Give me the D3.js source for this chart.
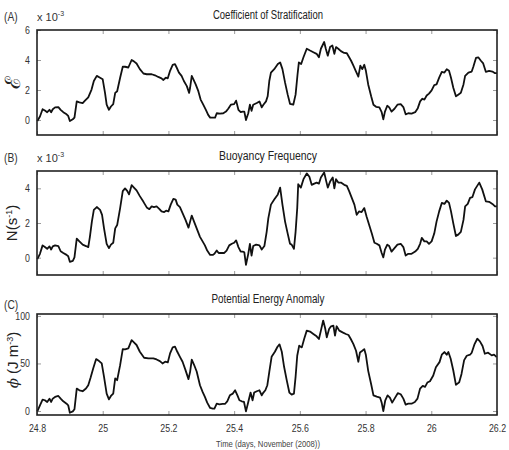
<!DOCTYPE html>
<html>
<head>
<meta charset="utf-8">
<script src="https://cdn.jsdelivr.net/npm/d3@7"></script>
<style>
  body { margin: 0; background: #fff; }
  svg { font-family: "Liberation Sans", Arial, sans-serif; }
</style>
</head>
<body>
<svg width="509" height="450"></svg>
<script>
// time axis (days, November 2008)
const xTicks = [24.8, 25, 25.2, 25.4, 25.6, 25.8, 26, 26.2];

// (A) coefficient of stratification, x 10^-3
const daysA = [24.801,24.809,24.817,24.824,24.831,24.838,24.843,24.848,24.855,24.865,24.872,24.880,24.890,24.895,24.900,24.909,24.914,24.921,24.929,24.939,24.946,24.956,24.966,24.973,24.982,24.992,25.000,25.007,25.012,25.019,25.025,25.032,25.038,25.044,25.053,25.061,25.068,25.078,25.088,25.095,25.103,25.113,25.124,25.134,25.149,25.159,25.169,25.179,25.184,25.192,25.198,25.205,25.213,25.220,25.225,25.232,25.240,25.247,25.256,25.263,25.266,25.271,25.276,25.283,25.291,25.298,25.306,25.314,25.321,25.327,25.335,25.342,25.347,25.357,25.367,25.375,25.382,25.390,25.400,25.406,25.413,25.420,25.426,25.431,25.436,25.443,25.448,25.453,25.458,25.469,25.477,25.484,25.489,25.497,25.502,25.507,25.512,25.522,25.533,25.540,25.547,25.555,25.563,25.570,25.580,25.587,25.593,25.597,25.604,25.611,25.621,25.631,25.641,25.651,25.658,25.664,25.674,25.679,25.685,25.692,25.699,25.705,25.710,25.717,25.725,25.735,25.743,25.750,25.756,25.763,25.770,25.778,25.784,25.790,25.796,25.801,25.808,25.817,25.824,25.832,25.842,25.849,25.854,25.859,25.866,25.872,25.879,25.888,25.897,25.907,25.915,25.922,25.930,25.940,25.951,25.959,25.966,25.973,25.979,25.986,25.993,26.001,26.009,26.016,26.024,26.032,26.040,26.047,26.054,26.060,26.067,26.075,26.082,26.090,26.098,26.103,26.113,26.123,26.128,26.136,26.143,26.151,26.158,26.166,26.176,26.186,26.194,26.200];
const epsA = [-0.07,0.23,0.72,0.63,0.52,0.68,0.52,0.72,0.84,0.86,0.68,0.52,0.38,0.27,-0.07,0.05,0.16,1.24,1.18,1.13,1.29,1.51,2.03,2.60,2.94,2.82,2.71,1.81,1.02,0.68,0.90,1.06,1.81,1.92,2.82,3.55,3.55,3.50,4.00,3.91,3.77,3.39,3.10,3.05,3.05,2.98,2.87,2.78,2.67,2.82,2.78,3.28,3.68,3.73,3.50,3.16,2.94,2.60,2.26,1.81,2.15,2.94,2.71,2.37,1.92,1.36,1.02,0.68,0.34,0.16,0.16,0.16,0.45,0.43,0.45,0.56,0.75,1.02,1.06,1.29,0.68,0.52,0.56,0.56,0.00,0.45,1.02,0.61,1.02,1.13,1.24,0.84,1.02,1.24,1.58,2.60,3.16,3.39,3.73,3.84,3.39,2.49,1.69,1.08,1.02,1.69,3.05,3.84,3.73,4.18,4.75,4.63,4.52,4.41,4.18,4.75,5.20,4.75,4.29,4.86,4.97,4.41,4.86,4.75,4.59,4.47,4.45,4.18,3.95,3.62,3.28,2.89,3.62,3.39,3.68,3.28,2.37,1.58,1.02,0.88,0.84,0.52,0.05,0.56,0.95,0.84,0.56,0.75,1.02,1.06,0.86,0.38,0.45,0.43,0.52,0.79,1.24,1.42,1.36,1.63,1.76,1.97,2.33,2.37,2.82,3.21,3.16,3.39,3.28,2.82,2.15,1.58,1.69,1.81,2.37,2.94,3.16,3.23,3.55,4.14,4.18,3.95,3.77,3.21,3.28,3.23,3.12,3.12];

// (B) buoyancy frequency, x 10^-3 s^-1
const daysB = [24.801,24.809,24.817,24.824,24.831,24.838,24.843,24.848,24.855,24.865,24.872,24.880,24.890,24.895,24.900,24.909,24.914,24.921,24.929,24.939,24.949,24.956,24.961,24.967,24.973,24.982,24.992,24.998,25.004,25.012,25.019,25.025,25.032,25.038,25.044,25.053,25.061,25.068,25.075,25.080,25.088,25.095,25.103,25.113,25.124,25.134,25.142,25.149,25.156,25.164,25.172,25.179,25.187,25.193,25.200,25.207,25.215,25.222,25.227,25.235,25.243,25.252,25.261,25.266,25.271,25.278,25.286,25.296,25.304,25.311,25.318,25.327,25.335,25.340,25.347,25.353,25.362,25.370,25.377,25.385,25.393,25.400,25.406,25.413,25.420,25.426,25.431,25.436,25.443,25.448,25.453,25.458,25.467,25.477,25.484,25.492,25.499,25.504,25.512,25.522,25.533,25.540,25.547,25.555,25.563,25.570,25.575,25.582,25.587,25.592,25.595,25.603,25.611,25.621,25.629,25.636,25.644,25.651,25.658,25.664,25.674,25.680,25.685,25.692,25.700,25.705,25.710,25.717,25.725,25.735,25.743,25.750,25.758,25.766,25.773,25.780,25.788,25.796,25.803,25.811,25.819,25.827,25.834,25.842,25.849,25.854,25.859,25.866,25.872,25.879,25.888,25.897,25.907,25.915,25.922,25.930,25.940,25.951,25.959,25.966,25.971,25.979,25.986,25.993,26.001,26.009,26.016,26.024,26.032,26.040,26.047,26.054,26.060,26.067,26.075,26.082,26.090,26.098,26.103,26.111,26.118,26.125,26.133,26.146,26.155,26.166,26.176,26.186,26.194,26.200];
const nB = [-0.08,0.22,0.71,0.61,0.51,0.65,0.47,0.65,0.71,0.67,0.37,0.27,0.16,0.08,-0.24,-0.18,0.02,1.10,0.94,0.75,0.67,0.61,1.20,2.08,2.76,2.92,2.76,2.47,1.69,0.80,0.55,0.75,0.86,1.69,1.88,2.86,3.84,4.00,3.84,3.65,4.18,4.04,3.88,3.55,3.22,2.90,2.80,2.96,2.92,2.96,2.82,2.67,2.63,2.71,2.67,3.06,3.39,3.35,3.06,2.92,2.57,2.18,1.73,2.08,2.43,2.08,1.69,1.20,0.94,0.71,0.41,0.16,0.16,0.22,0.41,0.27,0.27,0.27,0.41,0.71,0.80,0.86,1.00,0.61,0.35,0.35,0.31,-0.41,0.22,0.80,0.12,0.67,0.75,0.71,0.47,0.67,1.49,2.27,3.06,3.35,3.65,4.04,3.06,2.08,1.39,0.80,0.75,0.51,1.49,2.86,4.24,4.04,4.53,4.86,4.67,4.20,4.27,4.33,4.27,4.63,4.92,4.43,4.04,4.39,4.63,4.00,4.53,4.33,4.33,4.20,4.14,3.84,3.45,3.06,2.47,2.67,2.63,2.86,2.37,1.88,1.39,0.86,0.80,0.71,0.27,0.02,0.47,0.75,0.67,0.35,0.55,0.75,0.80,0.61,0.12,0.22,0.22,0.35,0.51,0.80,1.14,0.94,0.94,0.80,0.94,1.39,2.08,2.67,3.16,3.10,3.29,3.16,2.67,1.98,1.25,1.33,1.49,2.18,2.96,3.10,3.45,3.49,3.94,4.33,3.94,3.25,3.22,3.10,2.96,2.96];

// (C) potential energy anomaly, J m^-3
const daysC = [24.801,24.809,24.817,24.824,24.831,24.838,24.843,24.848,24.855,24.865,24.872,24.880,24.890,24.895,24.900,24.909,24.914,24.921,24.929,24.939,24.949,24.956,24.963,24.971,24.980,24.989,24.997,25.004,25.012,25.019,25.025,25.032,25.038,25.044,25.053,25.061,25.068,25.078,25.088,25.095,25.103,25.113,25.126,25.139,25.154,25.164,25.174,25.182,25.190,25.198,25.205,25.213,25.220,25.227,25.235,25.243,25.252,25.261,25.266,25.271,25.278,25.286,25.296,25.304,25.311,25.318,25.327,25.335,25.340,25.347,25.355,25.365,25.372,25.379,25.387,25.396,25.403,25.410,25.416,25.423,25.430,25.436,25.443,25.450,25.456,25.461,25.469,25.477,25.484,25.489,25.495,25.501,25.507,25.514,25.524,25.532,25.538,25.545,25.552,25.560,25.568,25.575,25.582,25.587,25.592,25.598,25.606,25.613,25.621,25.631,25.641,25.651,25.658,25.664,25.671,25.677,25.682,25.689,25.695,25.702,25.707,25.712,25.720,25.730,25.740,25.748,25.755,25.763,25.771,25.778,25.783,25.790,25.796,25.801,25.808,25.817,25.824,25.834,25.844,25.849,25.854,25.860,25.867,25.874,25.881,25.890,25.898,25.907,25.915,25.922,25.930,25.940,25.950,25.958,25.966,25.974,25.981,25.988,25.996,26.006,26.014,26.025,26.032,26.040,26.047,26.052,26.059,26.067,26.075,26.085,26.092,26.100,26.108,26.118,26.123,26.131,26.140,26.148,26.156,26.163,26.173,26.184,26.191,26.199];
const phiC = [-0.4,6.0,12.0,11.3,9.5,13.0,9.5,13.0,14.8,15.8,13.0,10.2,7.7,6.0,-1.8,-0.4,1.8,23.6,21.8,20.8,23.6,27.1,34.9,44.7,54.6,52.5,50.0,35.9,18.3,12.3,15.8,18.3,34.2,32.4,48.2,65.1,64.8,65.8,74.6,72.2,69.4,62.3,56.0,55.3,55.3,54.2,52.5,50.0,51.8,51.1,60.6,66.9,67.6,62.3,57.0,51.8,43.0,33.5,41.2,53.9,48.6,41.5,27.1,20.1,14.8,8.8,3.2,2.5,2.5,7.7,7.0,7.4,7.4,10.2,16.5,18.3,21.8,16.5,11.3,10.2,9.5,-0.4,9.5,19.4,11.3,19.4,20.8,21.8,16.5,19.4,21.8,27.1,41.2,57.0,62.3,67.6,70.1,62.3,46.5,32.4,19.4,17.3,18.3,35.9,58.1,68.7,66.9,75.7,84.5,83.5,81.0,78.5,75.7,84.5,95.1,87.0,77.5,86.3,89.1,89.8,79.2,89.1,84.5,82.7,81.0,79.9,75.7,70.4,63.4,51.8,61.6,63.4,65.1,58.8,42.2,28.2,16.5,15.1,14.1,8.8,0.0,11.3,16.5,14.1,8.8,14.1,18.7,17.6,13.0,6.7,7.7,7.7,9.5,13.0,23.6,26.4,25.4,29.9,31.3,37.3,46.1,51.4,59.2,62.0,59.2,62.0,55.0,42.6,27.5,30.2,39.0,53.5,58.1,59.2,61.3,69.7,76.0,73.2,68.3,60.2,61.3,58.5,59.2,56.7];

const svg = d3.select("svg");
const left = 37, right = 497;

const x = d3.scaleLinear().domain([24.8, 26.2]).range([left, right]);

const panels = [
  {tag: "(A)", title: "Coefficient of Stratification", titleW: 110, days: daysA, vals: epsA,
   domain: [-1, 6], top: 30, bottom: 135, yTicks: [0, 2, 4, 6], exp: true, xLabels: false},
  {tag: "(B)", title: "Buoyancy Frequency", titleW: 98, days: daysB, vals: nB,
   domain: [-1, 5], top: 171, bottom: 275, yTicks: [0, 2, 4], exp: true, xLabels: false},
  {tag: "(C)", title: "Potential Energy Anomaly", titleW: 113, days: daysC, vals: phiC,
   domain: [-4.2, 102], top: 314, bottom: 415, yTicks: [0, 50, 100], exp: false, xLabels: true}
];

// the source uses a narrow face: squeeze the plain texts
function narrow(sel, f) {
  sel.each(function() {
    const w = this.getComputedTextLength();
    if (w > 0) d3.select(this).attr("textLength", w * f).attr("lengthAdjust", "spacingAndGlyphs");
  });
}

panels.forEach((p, i) => {
  const y = d3.scaleLinear().domain(p.domain).range([p.bottom, p.top]);
  const g = svg.append("g");

  // inward ticks on all four sides
  const tickCol = "#9a9a9a";
  const yl = g.append("g").attr("transform", `translate(${left},0)`)
    .call(d3.axisLeft(y).tickValues(p.yTicks).tickSize(-4).tickPadding(7).tickFormat(d3.format("d")));
  const yr = g.append("g").attr("transform", `translate(${right},0)`)
    .call(d3.axisRight(y).tickValues(p.yTicks).tickSize(-4).tickFormat(""));
  const xt = g.append("g").attr("transform", `translate(0,${p.top})`)
    .call(d3.axisTop(x).tickValues(xTicks).tickSize(-4).tickFormat(""));
  const xb = g.append("g").attr("transform", `translate(0,${p.bottom})`)
    .call(d3.axisBottom(x).tickValues(xTicks).tickSize(-4).tickPadding(9)
      .tickFormat(p.xLabels ? d3.format("") : ""));
  [yl, yr, xt, xb].forEach(a => {
    a.select(".domain").remove();
    a.selectAll(".tick line").attr("stroke", tickCol);
    a.selectAll("text").attr("fill", "#333").attr("font-size", 11)
      .attr("font-family", "'Liberation Sans', sans-serif");
    narrow(a.selectAll("text"), 0.8);
  });

  // the series
  const pts = p.days.map((d, k) => [d, p.vals[k]]);
  g.append("path")
    .datum(pts)
    .attr("d", d3.line().x(d => x(d[0])).y(d => y(d[1])))
    .attr("fill", "none")
    .attr("stroke", "#111")
    .attr("stroke-width", 1.8)
    .attr("stroke-linejoin", "round");

  // box
  g.append("rect")
    .attr("x", left).attr("y", p.top)
    .attr("width", right - left).attr("height", p.bottom - p.top)
    .attr("fill", "none").attr("stroke", "#222").attr("stroke-width", 1.6);

  // panel letter and title
  g.append("text").attr("x", 4).attr("y", p.top - (i === 2 ? 5 : 9))
    .attr("font-size", 12).attr("fill", "#333").text(p.tag)
    .call(narrow, 0.85);
  g.append("text").attr("x", 268).attr("y", p.top - 11)
    .attr("text-anchor", "middle").attr("font-size", 12).attr("fill", "#222")
    .attr("textLength", p.titleW).attr("lengthAdjust", "spacingAndGlyphs")
    .text(p.title);

  if (p.exp) {
    const t = g.append("text").attr("x", 37).attr("y", p.top - 9)
      .attr("font-size", 11).attr("fill", "#333");
    t.append("tspan").text("x 10");
    t.append("tspan").attr("dy", -5).attr("font-size", 7).text("-3");
  }
});

// y labels
svg.append("text")
  .attr("transform", "translate(20,82) rotate(-90)")
  .attr("text-anchor", "middle").attr("font-size", 21)
  .attr("font-family", "'DejaVu Serif', serif").attr("fill", "#222")
  .text("\u2130");

const nl = svg.append("text")
  .attr("transform", "translate(17,223) rotate(-90)")
  .attr("text-anchor", "middle").attr("font-size", 15)
  .attr("font-family", "'Liberation Sans', sans-serif").attr("fill", "#222");
nl.append("tspan").text("N(s");
nl.append("tspan").attr("dy", -5).attr("font-size", 9).text("-1");
nl.append("tspan").attr("dy", 5).text(")");

const pl = svg.append("text")
  .attr("transform", "translate(18,360) rotate(-90)")
  .attr("text-anchor", "middle").attr("font-size", 15)
  .attr("font-family", "'Liberation Sans', sans-serif").attr("fill", "#222");
pl.append("tspan").attr("font-family", "'DejaVu Serif', serif").attr("font-style", "italic").text("\u03D5");
pl.append("tspan").text(" (J m");
pl.append("tspan").attr("dy", -5).attr("font-size", 9).text("-3");
pl.append("tspan").attr("dy", 5).text(")");

// x label (sits right at the bottom edge, as in the source)
svg.append("text")
  .attr("x", 268).attr("y", 447)
  .attr("text-anchor", "middle").attr("font-size", 9).attr("fill", "#444")
  .text("Time (days, November (2008))")
  .call(narrow, 0.85);
</script>
</body>
</html>
